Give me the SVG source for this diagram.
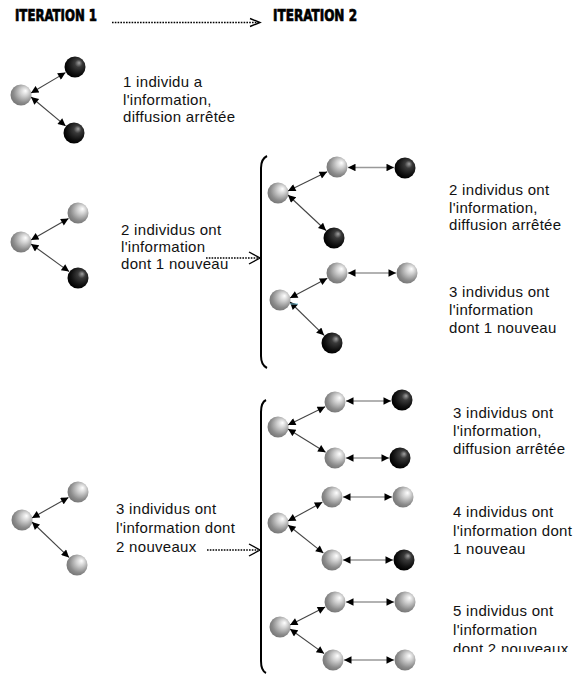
<svg xmlns="http://www.w3.org/2000/svg" width="586" height="684" viewBox="0 0 586 684">
<style>
.t{font-family:"Liberation Sans",Arial,sans-serif;font-size:15px;letter-spacing:0.3px;fill:#111}
.h{font-family:"DejaVu Sans Condensed","DejaVu Sans",sans-serif;font-weight:bold;font-size:16.5px;fill:#000;stroke:#000;stroke-width:0.7}
.lt{fill:url(#gl)}
.dk{fill:url(#gd)}
.c{stroke:#444;stroke-width:1.1;fill:none;marker-start:url(#ah);marker-end:url(#ah)}
.ch{stroke:#999;stroke-width:1.3;fill:none;marker-start:url(#ah);marker-end:url(#ah)}
.dot{stroke:#000;stroke-width:1.7;stroke-dasharray:1.6 1.2;fill:none}
.chev{stroke:#000;stroke-width:1.4;fill:none}
.br{stroke:#000;stroke-width:2;fill:none}
</style>
<defs>
<radialGradient id="gl" cx="0.6" cy="0.4" r="0.6" fx="0.72" fy="0.3">
<stop offset="0" stop-color="#ffffff"/>
<stop offset="0.35" stop-color="#d0d0d0"/>
<stop offset="0.8" stop-color="#8c8c8c"/>
<stop offset="1" stop-color="#7a7a7a"/>
</radialGradient>
<radialGradient id="gd" cx="0.6" cy="0.4" r="0.6" fx="0.7" fy="0.3">
<stop offset="0" stop-color="#a0a0a0"/>
<stop offset="0.3" stop-color="#3a3a3a"/>
<stop offset="0.75" stop-color="#111"/>
<stop offset="1" stop-color="#000"/>
</radialGradient>
<marker id="ah" viewBox="0 0 10 10" refX="10" refY="5" markerWidth="9.5" markerHeight="7.5" markerUnits="userSpaceOnUse" orient="auto-start-reverse">
<path d="M0,0 L10,5 L0,10 z" fill="#000"/>
</marker>
<clipPath id="clipE"><rect x="440" y="598" width="146" height="54"/></clipPath>
</defs>

<g id="headers">
<text class="h" x="15" y="20.5" textLength="82" lengthAdjust="spacingAndGlyphs">ITERATION 1</text>
<text class="h" x="273" y="20.5" textLength="84" lengthAdjust="spacingAndGlyphs">ITERATION 2</text>
</g>

<g id="connectors">
<line class="dot" x1="112" y1="22.5" x2="258" y2="22.5"/>
<polyline class="chev" points="250,18.5 260,22.5 250,26.5"/>
<line class="dot" x1="206" y1="258" x2="258" y2="258"/>
<polyline class="chev" points="249,252 260,258 249,264"/>
<line class="dot" x1="207" y1="550" x2="258" y2="550"/>
<polyline class="chev" points="249,544 260,550 249,556"/>
<path class="br" d="M267,156 C263,158 261,162 261,168 L261,356 C261,362 263,366 267,368"/>
<path class="br" d="M266,400 C262,402 261,406 261,412 L261,661 C261,667 262,671 266,673"/>
<line class="c" x1="31" y1="93" x2="65.5" y2="72.6"/>
<line class="c" x1="31" y1="97" x2="65.6" y2="125.9"/>
<line class="c" x1="31" y1="240" x2="68.5" y2="218.5"/>
<line class="c" x1="31" y1="244" x2="69.1" y2="271.6"/>
<line class="c" x1="32" y1="518" x2="68.4" y2="497.4"/>
<line class="c" x1="32" y1="522" x2="69" y2="557.4"/>
<line class="c" x1="288" y1="191" x2="327.1" y2="171.8"/>
<line class="c" x1="288" y1="195" x2="326" y2="230.5"/>
<line class="ch" x1="348" y1="167.5" x2="394" y2="167.5"/>
<line class="c" x1="290" y1="298" x2="327.3" y2="278.2"/>
<line class="c" x1="290" y1="302" x2="324.1" y2="335.3"/>
<line class="ch" x1="348" y1="273" x2="396" y2="273"/>
<line x1="290" y1="304" x2="298" y2="304" stroke="#7cc8e0" stroke-width="1"/>
<line class="c" x1="288" y1="425" x2="325.1" y2="406.8"/>
<line class="c" x1="288" y1="429" x2="325.6" y2="452.2"/>
<line class="ch" x1="346" y1="401" x2="391" y2="401"/>
<line class="ch" x1="346" y1="458" x2="389" y2="458"/>
<line class="c" x1="288" y1="521" x2="322.3" y2="502.3"/>
<line class="c" x1="288" y1="525" x2="323.4" y2="553.1"/>
<line class="ch" x1="343" y1="497" x2="392" y2="497"/>
<line class="ch" x1="343" y1="560" x2="393" y2="560"/>
<line class="c" x1="290" y1="625" x2="325.2" y2="607"/>
<line class="c" x1="290" y1="629" x2="324.1" y2="653.6"/>
<line class="ch" x1="346" y1="602" x2="394" y2="602"/>
<line class="ch" x1="344" y1="660" x2="394" y2="660"/>
</g>

<g id="row1">
<circle class="lt" cx="21" cy="95" r="10.5"/>
<circle class="dk" cx="75" cy="67" r="10.5"/>
<circle class="dk" cx="74" cy="133" r="10.5"/>
<text class="t"><tspan x="123" y="87">1 individu a</tspan><tspan x="123" y="104.5">l'information,</tspan><tspan x="123" y="122">diffusion arrêtée</tspan></text>
</g>

<g id="row2">
<circle class="lt" cx="21" cy="242" r="10.5"/>
<circle class="lt" cx="78" cy="213" r="10.5"/>
<circle class="dk" cx="78" cy="278" r="10.5"/>
<text class="t"><tspan x="121" y="235">2 individus ont</tspan><tspan x="121" y="252">l'information</tspan><tspan x="121" y="268.5">dont 1 nouveau</tspan></text>
</g>

<g id="row3">
<circle class="lt" cx="22" cy="520" r="10.5"/>
<circle class="lt" cx="78" cy="492" r="10.5"/>
<circle class="lt" cx="77" cy="565" r="10.5"/>
<text class="t"><tspan x="116" y="514">3 individus ont</tspan><tspan x="116" y="533">l'information dont</tspan><tspan x="116" y="552">2 nouveaux</tspan></text>
</g>

<g id="groupA">
<circle class="lt" cx="278" cy="193" r="10.5"/>
<circle class="lt" cx="337" cy="167" r="10.5"/>
<circle class="dk" cx="405" cy="168" r="10.5"/>
<circle class="dk" cx="334" cy="238" r="10.5"/>
<text class="t"><tspan x="449" y="195">2 individus ont</tspan><tspan x="449" y="212.5">l'information,</tspan><tspan x="449" y="230">diffusion arrêtée</tspan></text>
</g>

<g id="groupB">
<circle class="lt" cx="280" cy="300" r="10.5"/>
<circle class="lt" cx="337" cy="273" r="10.5"/>
<circle class="lt" cx="407" cy="273" r="10.5"/>
<circle class="dk" cx="332" cy="343" r="10.5"/>
<text class="t"><tspan x="449" y="297">3 individus ont</tspan><tspan x="449" y="315">l'information</tspan><tspan x="449" y="333">dont 1 nouveau</tspan></text>
</g>

<g id="groupC">
<circle class="lt" cx="278" cy="427" r="10.5"/>
<circle class="lt" cx="335" cy="402" r="10.5"/>
<circle class="dk" cx="402" cy="400" r="10.5"/>
<circle class="lt" cx="335" cy="458" r="10.5"/>
<circle class="dk" cx="400" cy="458" r="10.5"/>
<text class="t"><tspan x="453" y="418">3 individus ont</tspan><tspan x="453" y="436">l'information,</tspan><tspan x="453" y="454">diffusion arrêtée</tspan></text>
</g>

<g id="groupD">
<circle class="lt" cx="278" cy="523" r="10.5"/>
<circle class="lt" cx="332" cy="497" r="10.5"/>
<circle class="lt" cx="403" cy="497" r="10.5"/>
<circle class="lt" cx="332" cy="560" r="10.5"/>
<circle class="dk" cx="404" cy="560" r="10.5"/>
<text class="t"><tspan x="453" y="517">4 individus ont</tspan><tspan x="453" y="536">l'information dont</tspan><tspan x="453" y="554">1 nouveau</tspan></text>
</g>

<g id="groupE">
<circle class="lt" cx="280" cy="627" r="10.5"/>
<circle class="lt" cx="335" cy="602" r="10.5"/>
<circle class="lt" cx="405" cy="602" r="10.5"/>
<circle class="lt" cx="333" cy="660" r="10.5"/>
<circle class="lt" cx="405" cy="660" r="10.5"/>
<text class="t" clip-path="url(#clipE)"><tspan x="453" y="616">5 individus ont</tspan><tspan x="453" y="634.5">l'information</tspan><tspan x="453" y="653.5">dont 2 nouveaux</tspan></text>
</g>
</svg>
